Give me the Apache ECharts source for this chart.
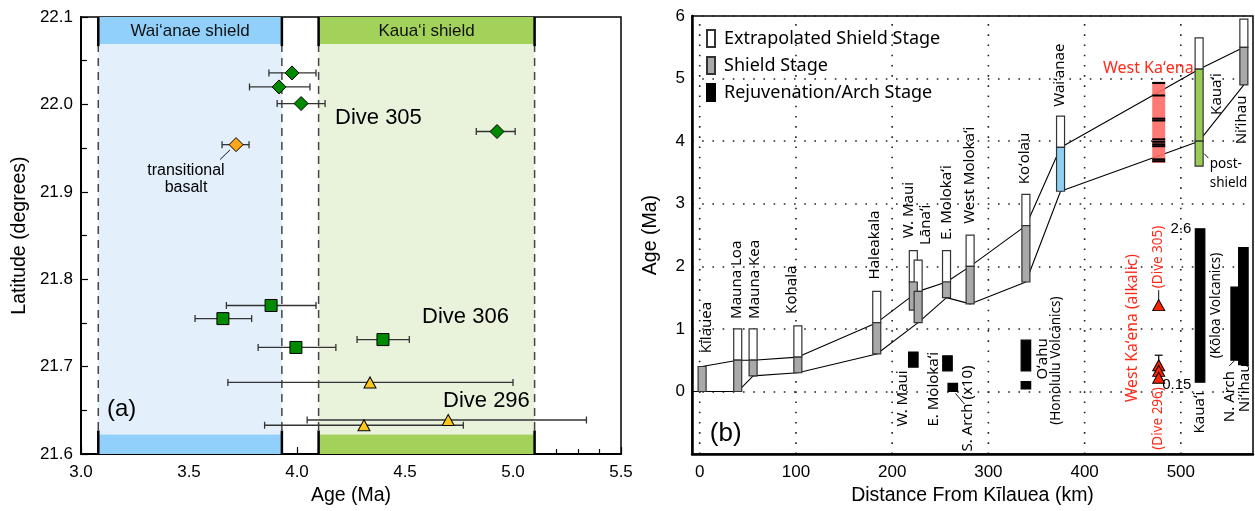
<!DOCTYPE html>
<html>
<head>
<meta charset="utf-8">
<script src="https://cdn.jsdelivr.net/npm/echarts@6/dist/echarts.min.js"></script>
<style>
  html, body { margin: 0; padding: 0; background: #fff; }
  #c { width: 1255px; height: 511px; }
</style>
</head>
<body>
<div id="c"></div>
<script>
// ---------- Panel (a): latitude of dredged samples vs. age ----------
const ageTicksA = [3.0, 3.5, 4.0, 4.5, 5.0, 5.5];
const latTicksA = [21.6, 21.7, 21.8, 21.9, 22.0, 22.1];
// shield-stage age windows: [label, start (Ma), end (Ma)]
const shieldWindows = [
  ['Wai‘anae shield', 3.08, 3.93],
  ['Kaua‘i shield', 4.10, 5.10]
];
// samples: [age (Ma), latitude, age min, age max]
const dive305 = [
  [3.977, 22.036, 3.870, 4.088],
  [3.917, 22.020, 3.780, 4.060],
  [4.019, 22.001, 3.908, 4.130],
  [4.926, 21.969, 4.830, 5.010]
];
const transitionalBasalt = [
  [3.718, 21.954, 3.653, 3.778]
];
const dive306 = [
  [3.880, 21.770, 3.673, 4.088],
  [3.657, 21.755, 3.528, 3.790],
  [3.995, 21.722, 3.820, 4.180],
  [4.398, 21.731, 4.278, 4.520]
];
const dive296 = [
  [4.338, 21.682, 3.680, 5.000],
  [4.700, 21.639, 4.047, 5.340],
  [4.310, 21.633, 3.850, 4.770]
];

// ---------- Panel (b): age vs. distance from Kilauea ----------
const distTicksB = [0, 100, 200, 300, 400, 500];
const ageTicksB = [0, 1, 2, 3, 4, 5, 6];
const volcanoes   = ['Kīlauea', 'Mauna Loa', 'Mauna Kea', 'Kohala', 'Haleakala', 'W. Maui', 'Lānaʻi', 'E. Molokaʻi', 'West Molokaʻi', 'Koʻolau', 'Waiʻanae', 'Kauaʻi', 'Niʻihau'];
const volcanoDist = [2.5, 39.5, 55.5, 102, 184, 222, 227, 256.5, 281, 339, 375, 519, 565.5];
const shieldStart = [0, 0, 0.25, 0.30, 0.60, 1.30, 1.10, 1.50, 1.40, 1.75, 3.20, 4.00, 4.90];
const shieldEnd   = [0.40, 0.50, 0.50, 0.55, 1.10, 1.75, 1.60, 1.75, 2.00, 2.65, 3.90, 5.15, 5.50];
const extrapEnd   = [0.40, 1.00, 1.00, 1.05, 1.60, 2.25, 2.10, 2.25, 2.50, 3.15, 4.40, 5.65, 5.95];
// Kaua'i post-shield interval
const kauaiPostShield = [519, 3.60, 4.00];
// rejuvenation / arch volcanism
const rejuvSite  = ['W. Maui', 'E. Molokaʻi', 'S. Arch', 'Oʻahu', 'Oʻahu', 'Kauaʻi', 'N. Arch', 'Niʻihau'];
const rejuvDist  = [222, 257.5, 263, 339, 339, 520, 557, 565];
const rejuvStart = [0.39, 0.33, 0.00, 0.33, 0.04, 0.15, 0.50, 0.43];
const rejuvEnd   = [0.63, 0.57, 0.13, 0.82, 0.16, 2.60, 1.67, 2.30];
// West Ka'ena: dated interval and individual flow ages inside it
const westKaenaRange = [477, 3.65, 4.95];
const westKaenaFlows = [4.93, 4.73, 4.36, 4.33, 4.03, 3.99, 3.95, 3.92, 3.71, 3.68];
// West Ka'ena alkalic samples
const alkalicDive296 = [[477, 0.42], [477, 0.33], [477, 0.22]];
const alkalicDive296Range = [477, 0.17, 0.58];
const alkalicDive305 = [[477, 1.38]];

const FA = '"Liberation Sans", Arial, sans-serif';
const FB = '"Noto Sans", sans-serif';

// text annotations (data coordinates)
const notesA = [
  { text: 'Dive 305', at: [4.176, 21.984], size: 22, font: FA },
  { text: 'Dive 306', at: [4.579, 21.757], size: 22, font: FA },
  { text: 'Dive 296', at: [4.676, 21.661], size: 22, font: FA },
  { text: '(a)', at: [3.12, 21.651], size: 24, font: FA },
  { text: 'transitional', at: [3.486, 21.924], size: 16, font: FA, align: 'center' },
  { text: 'basalt', at: [3.486, 21.905], size: 16, font: FA, align: 'center' }
];
const leadersA = [[3.690, 21.948, 3.644, 21.937]];

const RED = '#ff2a1a';
const notesB = [
  { text: 'Kīlauea', at: [7.3, 0.61], rot: 90 },
  { text: 'Mauna Loa', at: [38.4, 1.16], rot: 90 },
  { text: 'Mauna Kea', at: [57, 1.16], rot: 90 },
  { text: 'Kohala', at: [95.5, 1.24], rot: 90 },
  { text: 'Haleakala', at: [181.7, 1.79], rot: 90 },
  { text: 'W. Maui', at: [217, 2.45], rot: 90 },
  { text: 'Lānaʻi', at: [234.7, 2.34], rot: 90 },
  { text: 'E. Molokaʻi', at: [256.5, 2.42], rot: 90 },
  { text: 'West Molokaʻi', at: [280.4, 2.68], rot: 90 },
  { text: 'Koʻolau', at: [337.5, 3.31], rot: 90 },
  { text: 'Waiʻanae', at: [373.8, 4.55], rot: 90 },
  { text: 'Kauaʻi', at: [537, 4.42], rot: 90 },
  { text: 'Niʻihau', at: [563, 3.95], rot: 90 },
  { text: 'W. Maui', at: [210.8, -0.56], rot: 90 },
  { text: 'E. Molokaʻi', at: [243, -0.56], rot: 90 },
  { text: 'S. Arch (x10)', at: [278.3, -0.96], rot: 90 },
  { text: 'Oʻahu', at: [356, 0.19], rot: 90 },
  { text: '(Honolulu Volcanics)', at: [370.7, -0.53], rot: 90, size: 13.5 },
  { text: 'West Kaʻena (alkalic)', at: [449.6, -0.17], rot: 90, color: RED, size: 15.7 },
  { text: '(Dive 296)', at: [476.6, -0.93], rot: 90, color: RED, size: 13.5 },
  { text: '(Dive 305)', at: [476.6, 1.65], rot: 90, color: RED, size: 13.5 },
  { text: 'Kauaʻi', at: [520, -0.67], rot: 90 },
  { text: '(Kōloa Volcanics)', at: [537, 0.53], rot: 90, size: 13.5 },
  { text: 'N. Arch', at: [550.4, -0.49], rot: 90 },
  { text: 'Niʻihau', at: [566.5, -0.33], rot: 90 },
  { text: 'West Kaʻena', at: [419, 5.16], color: RED, size: 16 },
  { text: 'post-', at: [530, 3.63], size: 13.5 },
  { text: 'shield', at: [530, 3.33], size: 13.5 },
  { text: '2.6', at: [511, 2.60], size: 15, font: FA, align: 'right' },
  { text: '0.15', at: [511, 0.11], size: 15, font: FA, align: 'right' },
  { text: '(b)', at: [10.5, -0.68], size: 26, font: FA }
];
const leadersB = [
  [265.8, -0.03, 275.2, -0.20],
  [477, 1.45, 477, 1.62],
  [524.4, 3.80, 528.6, 3.73],
  [550.4, 0.41, 555.6, 0.49]
];

function noteRenderer(notes, defaultFont) {
  return function (params, api) {
    const n = notes[params.dataIndex];
    const p = api.coord(n.at);
    return {
      type: 'text',
      x: p[0], y: p[1],
      rotation: (n.rot || 0) * Math.PI / 180,
      style: {
        text: n.text,
        fill: n.color || '#000',
        font: (n.size || 15) + 'px ' + (n.font || defaultFont),
        align: n.align || 'left',
        verticalAlign: 'middle'
      }
    };
  };
}
function leaderRenderer(params, api) {
  const a = api.coord([api.value(0), api.value(1)]);
  const b = api.coord([api.value(2), api.value(3)]);
  return { type: 'line', shape: { x1: a[0], y1: a[1], x2: b[0], y2: b[1] }, style: { stroke: '#111', lineWidth: 1 } };
}

// shield windows: pale fill, coloured header/footer strips, dashed limits
const STRIP_TOP = 22.069, STRIP_BOTTOM = 21.6225;
const windowFill = ['#e3f0fc', '#e9f3dc'];
const windowStrip = ['#90d0fa', '#a2d25a'];
function windowRenderer(params, api) {
  const i = params.dataIndex;
  const s = api.value(0), e = api.value(1);
  const tl = api.coord([s, 22.1]), br = api.coord([e, 21.6]);
  const st = api.coord([s, STRIP_TOP]), sb = api.coord([s, STRIP_BOTTOM]);
  const x0 = tl[0], x1 = br[0];
  const kids = [
    { type: 'rect', shape: { x: x0, y: st[1], width: x1 - x0, height: sb[1] - st[1] }, style: { fill: windowFill[i] } },
    { type: 'rect', shape: { x: x0, y: tl[1], width: x1 - x0, height: st[1] - tl[1] }, style: { fill: windowStrip[i] } },
    { type: 'rect', shape: { x: x0, y: sb[1], width: x1 - x0, height: br[1] - sb[1] }, style: { fill: windowStrip[i] } },
    { type: 'text', x: (x0 + x1) / 2, y: (tl[1] + st[1]) / 2 + 1, style: { text: shieldWindows[i][0], font: '17px ' + FA, fill: '#111', align: 'center', verticalAlign: 'middle' } }
  ];
  [x0, x1].forEach(function (x) {
    kids.push({ type: 'line', shape: { x1: x, y1: st[1], x2: x, y2: sb[1] - 4 }, style: { stroke: '#444', lineWidth: 1.5, lineDash: [8, 6] } });
    kids.push({ type: 'line', shape: { x1: x, y1: tl[1], x2: x, y2: st[1] + 2 }, style: { stroke: '#000', lineWidth: 2.5 } });
    kids.push({ type: 'line', shape: { x1: x, y1: sb[1] - 4, x2: x, y2: br[1] }, style: { stroke: '#000', lineWidth: 2.5 } });
  });
  return { type: 'group', children: kids };
}

function errorRenderer(color, cap) {
  return function (params, api) {
    const y = api.value(1);
    const a = api.coord([api.value(2), y]), b = api.coord([api.value(3), y]);
    const st = { stroke: color, lineWidth: 1.3 };
    return {
      type: 'group', children: [
        { type: 'line', shape: { x1: a[0], y1: a[1], x2: b[0], y2: b[1] }, style: st },
        { type: 'line', shape: { x1: a[0], y1: a[1] - cap, x2: a[0], y2: a[1] + cap }, style: st },
        { type: 'line', shape: { x1: b[0], y1: b[1] - cap, x2: b[0], y2: b[1] + cap }, style: st }
      ]
    };
  };
}

// vertical stage bar (width in px)
function barRenderer(width) {
  return function (params, api) {
    const x = api.value(0);
    const top = api.coord([x, api.value(2)]), bot = api.coord([x, api.value(1)]);
    return {
      type: 'rect',
      shape: { x: top[0] - width / 2, y: top[1], width: width, height: bot[1] - top[1] },
      style: api.style({ stroke: api.visual('borderColor') || '#333', lineWidth: 1.2 })
    };
  };
}

function westKaenaRenderer(params, api) {
  const x = api.value(0);
  const top = api.coord([x, api.value(2)]), bot = api.coord([x, api.value(1)]);
  const w = 13;
  const kids = [{ type: 'rect', shape: { x: top[0] - w / 2, y: top[1], width: w, height: bot[1] - top[1] }, style: { fill: '#ff6b66', opacity: 0.9 } }];
  westKaenaFlows.forEach(function (a) {
    const p = api.coord([x, a]);
    kids.push({ type: 'rect', shape: { x: p[0] - w / 2, y: p[1] - 1, width: w, height: 2 }, style: { fill: '#000' } });
  });
  return { type: 'group', children: kids };
}

function vGridRenderer(params, api) {
  const a = api.coord([api.value(0), -1]), b = api.coord([api.value(0), 6]);
  return { type: 'line', shape: { x1: a[0], y1: a[1], x2: b[0], y2: b[1] }, style: { stroke: '#222', lineWidth: 1.6, lineDash: [1.6, 8.6] } };
}

function vErrRenderer(params, api) {
  const x = api.value(0);
  const a = api.coord([x, api.value(1)]), b = api.coord([x, api.value(2)]);
  const st = { stroke: '#111', lineWidth: 1.3 };
  return {
    type: 'group', children: [
      { type: 'line', shape: { x1: a[0], y1: a[1], x2: b[0], y2: b[1] }, style: st },
      { type: 'line', shape: { x1: b[0] - 4, y1: b[1], x2: b[0] + 4, y2: b[1] }, style: st }
    ]
  };
}

// boundary traces joining the shield-stage ends (W. Maui is not on the traces)
const upperTrace = [], lowerTrace = [[-8, 0]];
volcanoes.forEach(function (v, i) {
  if (v === 'W. Maui') return;
  upperTrace.push([volcanoDist[i], shieldEnd[i]]);
  lowerTrace.push([volcanoDist[i], shieldStart[i]]);
});

const shieldColor = { 'Waiʻanae': '#8ecff5', 'Kauaʻi': '#9acb55' };
const extrapData = [], shieldData = [];
volcanoes.forEach(function (v, i) {
  if (extrapEnd[i] > shieldEnd[i]) extrapData.push([volcanoDist[i], shieldEnd[i], extrapEnd[i]]);
  shieldData.push({ value: [volcanoDist[i], shieldStart[i], shieldEnd[i]], itemStyle: { color: shieldColor[v] || '#a9a9a9' } });
});
shieldData.push({ value: kauaiPostShield, itemStyle: { color: shieldColor['Kauaʻi'] } });
const rejuvData = rejuvDist.map(function (d, i) { return [d, rejuvStart[i], rejuvEnd[i]]; });

const sampleSeries = function (name, data, symbol, size, color) {
  return {
    name: name, type: 'scatter', xAxisIndex: 0, yAxisIndex: 0, silent: true, z: 4,
    data: data.map(function (d) { return [d[0], d[1]]; }),
    symbol: symbol, symbolSize: size,
    itemStyle: { color: color, borderColor: '#000', borderWidth: 1, opacity: 1 }
  };
};

const chart = echarts.init(document.getElementById('c'));
chart.setOption({
  animation: false,
  backgroundColor: '#fff',
  textStyle: { fontFamily: FA },
  legend: {
    left: 706, top: 29, orient: 'vertical', padding: 0,
    itemWidth: 8, itemHeight: 17, itemGap: 8, icon: 'rect',
    selectedMode: false,
    data: ['Extrapolated Shield Stage', 'Shield Stage', 'Rejuvenation/Arch Stage'],
    textStyle: { fontFamily: FB, fontSize: 18, color: '#000', padding: [0, 0, 0, 4] }
  },
  grid: [
    { left: 81, top: 17, width: 540, height: 445, show: true, borderColor: '#000', borderWidth: 1.5, backgroundColor: 'transparent' },
    { left: 692, top: 16, width: 561, height: 446, show: true, borderColor: '#000', borderWidth: 1.5, backgroundColor: 'transparent' }
  ],
  xAxis: [
    {
      gridIndex: 0, type: 'value', min: 3.0, max: 5.5, interval: 0.5,
      name: 'Age (Ma)', nameLocation: 'middle', nameGap: 25,
      nameTextStyle: { fontFamily: FA, fontSize: 19.5, color: '#000' },
      axisLine: { onZero: false, lineStyle: { color: '#000', width: 2 } },
      axisTick: { inside: true, length: 7, lineStyle: { color: '#000', width: 1.2 } },
      minorTick: { show: true, splitNumber: 5, length: 5, lineStyle: { color: '#000', width: 1.2 } },
      axisLabel: { fontFamily: FA, fontSize: 17, color: '#000', margin: 10, formatter: function (v) { return v.toFixed(1); } },
      splitLine: { show: false }
    },
    {
      gridIndex: 1, type: 'value', min: -8, max: 575,
      name: 'Distance From Kīlauea (km)', nameLocation: 'middle', nameGap: 27,
      nameTextStyle: { fontFamily: FA, fontSize: 19.5, color: '#000' },
      axisLine: { onZero: false, lineStyle: { color: '#000', width: 2.5 } },
      axisTick: { show: false },
      axisLabel: { fontFamily: FA, fontSize: 17, color: '#000', margin: 10, customValues: distTicksB },
      splitLine: { show: false }
    }
  ],
  yAxis: [
    {
      gridIndex: 0, type: 'value', min: 21.6, max: 22.1, interval: 0.1,
      name: 'Latitude (degrees)', nameLocation: 'middle', nameGap: 51,
      nameTextStyle: { fontFamily: FA, fontSize: 19.5, color: '#000' },
      axisLine: { onZero: false, lineStyle: { color: '#000', width: 2 } },
      axisTick: { inside: true, length: 7, lineStyle: { color: '#000', width: 1.2 } },
      minorTick: { show: true, splitNumber: 2, length: 6, lineStyle: { color: '#000', width: 1.2 } },
      axisLabel: { fontFamily: FA, fontSize: 17, color: '#000', margin: 8, formatter: function (v) { return v.toFixed(1); } },
      splitLine: { show: false }
    },
    {
      gridIndex: 1, type: 'value', min: -1, max: 6, interval: 1,
      name: 'Age (Ma)', nameLocation: 'middle', nameGap: 31,
      nameTextStyle: { fontFamily: FA, fontSize: 19.5, color: '#000' },
      axisLine: { onZero: false, lineStyle: { color: '#000', width: 2.5 } },
      axisTick: { show: false },
      axisLabel: { fontFamily: FA, fontSize: 17, color: '#000', margin: 7, formatter: function (v) { return ageTicksB.indexOf(v) >= 0 ? String(v) : ''; } },
      splitLine: { show: true, lineStyle: { color: '#222', width: 1.6, type: [1.6, 8.6] } }
    }
  ],
  series: [
    // ----- panel (a) -----
    { type: 'custom', name: 'windows', xAxisIndex: 0, yAxisIndex: 0, silent: true, z: 1,
      data: shieldWindows.map(function (w) { return [w[1], w[2]]; }), renderItem: windowRenderer },
    { type: 'custom', name: 'ageErrors', xAxisIndex: 0, yAxisIndex: 0, silent: true, z: 2,
      data: dive305.concat(transitionalBasalt, dive306, dive296), encode: { x: [0, 2, 3], y: 1 },
      renderItem: errorRenderer('#333', 3.5) },
    sampleSeries('Dive 305', dive305, 'diamond', 14, '#008a00'),
    sampleSeries('transitional basalt', transitionalBasalt, 'diamond', 14, '#ffa61a'),
    sampleSeries('Dive 306', dive306, 'rect', 12, '#008a00'),
    sampleSeries('Dive 296', dive296, 'triangle', [12, 11], '#ffc61a'),
    { type: 'custom', name: 'leadersA', xAxisIndex: 0, yAxisIndex: 0, silent: true, z: 5, data: leadersA, renderItem: leaderRenderer },
    { type: 'custom', name: 'notesA', xAxisIndex: 0, yAxisIndex: 0, silent: true, z: 6,
      data: notesA.map(function (n) { return n.at; }), renderItem: noteRenderer(notesA, FA) },

    // ----- panel (b) -----
    { type: 'custom', name: 'vgrid', xAxisIndex: 1, yAxisIndex: 1, silent: true, z: 0,
      data: distTicksB.map(function (d) { return [d, 0]; }), renderItem: vGridRenderer },
    { type: 'line', name: 'upperTrace', xAxisIndex: 1, yAxisIndex: 1, silent: true, z: 1, data: upperTrace,
      showSymbol: false, symbol: 'none', lineStyle: { color: '#000', width: 1.1 } },
    { type: 'line', name: 'lowerTrace', xAxisIndex: 1, yAxisIndex: 1, silent: true, z: 1, data: lowerTrace,
      showSymbol: false, symbol: 'none', lineStyle: { color: '#000', width: 1.1 } },
    { type: 'custom', name: 'Extrapolated Shield Stage', xAxisIndex: 1, yAxisIndex: 1, silent: true, z: 3,
      itemStyle: { color: '#fff', borderColor: '#333', borderWidth: 1.2 }, data: extrapData, renderItem: barRenderer(8) },
    { type: 'custom', name: 'Shield Stage', xAxisIndex: 1, yAxisIndex: 1, silent: true, z: 3,
      itemStyle: { color: '#a9a9a9', borderColor: '#333', borderWidth: 1.2 }, data: shieldData, renderItem: barRenderer(8) },
    { type: 'custom', name: 'Rejuvenation/Arch Stage', xAxisIndex: 1, yAxisIndex: 1, silent: true, z: 3,
      itemStyle: { color: '#000', borderColor: '#000', borderWidth: 1 }, data: rejuvData, renderItem: barRenderer(9.5) },
    { type: 'custom', name: 'West Kaʻena', xAxisIndex: 1, yAxisIndex: 1, silent: true, z: 2,
      data: [westKaenaRange], renderItem: westKaenaRenderer },
    { type: 'custom', name: 'alkalicError', xAxisIndex: 1, yAxisIndex: 1, silent: true, z: 4,
      data: [alkalicDive296Range], renderItem: vErrRenderer },
    { type: 'scatter', name: 'West Kaʻena alkalic', xAxisIndex: 1, yAxisIndex: 1, silent: true, z: 5,
      data: alkalicDive296.concat(alkalicDive305), symbol: 'triangle', symbolSize: [12, 11],
      itemStyle: { color: '#ff2200', borderColor: '#000', borderWidth: 1, opacity: 1 } },
    { type: 'custom', name: 'leadersB', xAxisIndex: 1, yAxisIndex: 1, silent: true, z: 5, data: leadersB, renderItem: leaderRenderer },
    { type: 'custom', name: 'notesB', xAxisIndex: 1, yAxisIndex: 1, silent: true, z: 6,
      data: notesB.map(function (n) { return n.at; }), renderItem: noteRenderer(notesB, FB) }
  ]
});
</script>
</body>
</html>
